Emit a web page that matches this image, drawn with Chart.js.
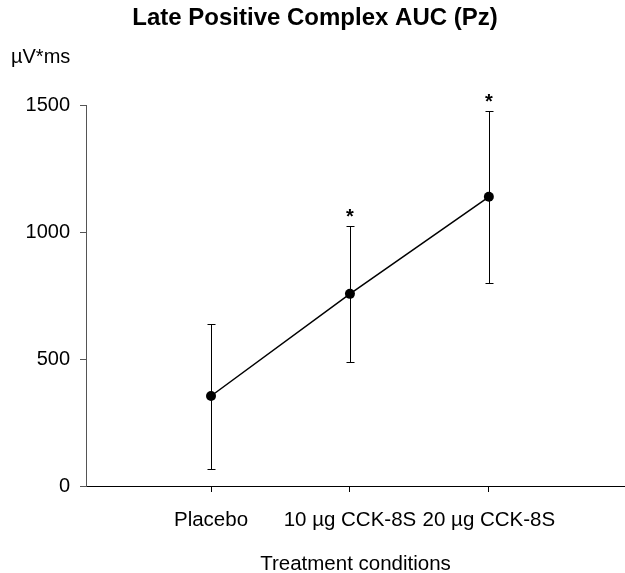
<!DOCTYPE html>
<html>
<head>
<meta charset="utf-8">
<title>Late Positive Complex AUC (Pz)</title>
<script src="https://cdn.jsdelivr.net/npm/chart.js@4.4.1/dist/chart.umd.min.js"></script>
<style>
  html, body { margin: 0; padding: 0; background: #fff; overflow: hidden; }
  /* a little wider than the window so the x axis runs to the right edge */
  #wrap { position: relative; width: 630px; height: 573px; }
</style>
</head>
<body>
<div id="wrap"><canvas id="lpcChart"></canvas></div>
<script>
// Chart data
const conditions = ['Placebo', '10 µg CCK-8S', '20 µg CCK-8S'];
const meanAuc = [355, 758, 1141];
const errAuc = [286, 269, 339];
const significance = ['', '*', '*'];
const yTicks = [0, 500, 1000, 1500];
const unitLabel = 'µV*ms';

const FONT = '"Liberation Sans", Arial, Helvetica, sans-serif';

// Error bars, significance stars and the unit label
const errorBarPlugin = {
  id: 'errorBars',
  beforeDatasetsDraw(chart) {
    const { ctx, scales: { x, y } } = chart;
    ctx.save();
    ctx.strokeStyle = '#000';
    ctx.lineWidth = 1;
    meanAuc.forEach((m, i) => {
      const px = Math.round(x.getPixelForValue(i + 1)) + 0.5;
      const top = Math.round(y.getPixelForValue(m + errAuc[i])) + 0.5;
      const bot = Math.round(y.getPixelForValue(m - errAuc[i])) + 0.5;
      ctx.beginPath();
      ctx.moveTo(px, top); ctx.lineTo(px, bot);
      ctx.moveTo(px - 4, top); ctx.lineTo(px + 4, top);
      ctx.moveTo(px - 4, bot); ctx.lineTo(px + 4, bot);
      ctx.stroke();
    });
    ctx.restore();
  },
  afterDraw(chart) {
    const { ctx, scales: { x, y } } = chart;
    ctx.save();
    ctx.fillStyle = '#000';
    ctx.font = 'bold 20px ' + FONT;
    ctx.textAlign = 'center';
    ctx.textBaseline = 'alphabetic';
    significance.forEach((s, i) => {
      if (!s) return;
      const px = x.getPixelForValue(i + 1);
      const top = y.getPixelForValue(meanAuc[i] + errAuc[i]);
      ctx.fillText(s, px, top - 3);
    });
    ctx.font = '20px ' + FONT;
    ctx.textAlign = 'left';
    ctx.fillText(unitLabel, 11, 63);
    ctx.restore();
  }
};

new Chart(document.getElementById('lpcChart'), {
  type: 'line',
  data: {
    datasets: [{
      data: meanAuc.map((v, i) => ({ x: i + 1, y: v })),
      borderColor: '#000',
      borderWidth: 1.5,
      backgroundColor: '#000',
      pointRadius: 5,
      pointBackgroundColor: '#000',
      pointBorderWidth: 0,
      tension: 0,
      clip: false
    }]
  },
  options: {
    responsive: true,
    maintainAspectRatio: false,
    animation: false,
    layout: { padding: 0 },
    plugins: {
      legend: { display: false },
      tooltip: { enabled: false },
      title: {
        display: true,
        text: 'Late Positive Complex AUC (Pz)',
        color: '#000',
        font: { family: FONT, size: 24, weight: 'bold' },
        padding: { top: 4, bottom: 73 }
      }
    },
    scales: {
      x: {
        type: 'linear',
        min: 0.1,
        max: 3.98,
        afterBuildTicks: s => { s.ticks = conditions.map((c, i) => ({ value: i + 1 })); },
        afterFit: s => { s.height = 87; },
        ticks: {
          callback: v => conditions[Math.round(v) - 1],
          color: '#000',
          font: { family: FONT, size: 20.5 },
          padding: 16,
          maxRotation: 0,
          autoSkip: false
        },
        grid: { drawOnChartArea: false, drawTicks: true, tickLength: 6, color: '#000' },
        border: { color: '#000', width: 1 },
        title: {
          display: true,
          text: 'Treatment conditions',
          color: '#000',
          font: { family: FONT, size: 20.5 },
          padding: { top: 0, bottom: -4 }
        }
      },
      y: {
        min: 0,
        max: 1500,
        afterBuildTicks: s => { s.ticks = yTicks.map(v => ({ value: v })); },
        afterFit: s => { s.width = 86; },
        ticks: {
          callback: v => String(v),
          color: '#000',
          font: { family: FONT, size: 20 },
          padding: 10
        },
        grid: { drawOnChartArea: false, drawTicks: true, tickLength: 6, color: '#555' },
        border: { color: '#555', width: 1 }
      }
    }
  },
  plugins: [errorBarPlugin]
});
</script>
</body>
</html>
